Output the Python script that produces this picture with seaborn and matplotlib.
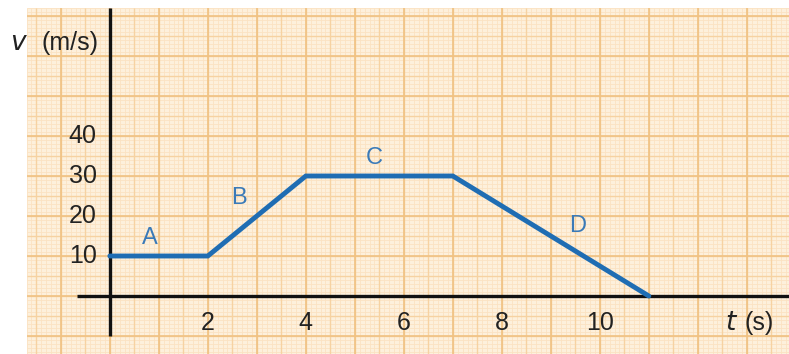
import numpy as np
import pandas as pd
import matplotlib
matplotlib.use("Agg")
import matplotlib.pyplot as plt
import seaborn as sns

# velocity-time data
t_points = [0, 2, 4, 7, 11]
v_points = [10, 10, 30, 30, 0]

x_tick_values = [2, 4, 6, 8, 10]
y_tick_values = [10, 20, 30, 40]

segment_names = ["A", "B", "C", "D"]
segment_t = [0.82, 2.63, 5.4, 9.55]
segment_v = [14.5, 24.5, 34.5, 17.5]

sns.set_style("white")
plt.rcParams["font.family"] = ["Liberation Sans", "DejaVu Sans"]

fig = plt.figure(figsize=(7.89, 3.54), dpi=100)
ax = fig.add_axes([27 / 789, 0, 762 / 789, 346 / 354])

x_min, x_max = -1.69, 13.86
y_min, y_max = -14.5, 72.0
ax.set_xlim(x_min, x_max)
ax.set_ylim(y_min, y_max)
ax.set_facecolor("#fdf0dc")

# graph-paper grid: fine, medium and coarse lines
fine_x = np.arange(-2, 14.01, 0.1)
fine_y = np.arange(-15, 73, 1.0)
ax.vlines(fine_x, y_min, y_max, color="#fbe2c2", lw=0.6, zorder=0)
ax.hlines(fine_y, x_min, x_max, color="#fbe2c2", lw=0.6, zorder=0)
mid_x = np.arange(-2, 14.01, 0.5)
mid_y = np.arange(-15, 73, 5.0)
ax.vlines(mid_x, y_min, y_max, color="#f6d2a2", lw=1.0, zorder=0)
ax.hlines(mid_y, x_min, x_max, color="#f6d2a2", lw=1.0, zorder=0)
big_x = np.arange(-2, 14.01, 1.0)
big_y = np.arange(-10, 73, 10.0)
ax.vlines(big_x, y_min, y_max, color="#f0c283", lw=1.2, zorder=0)
ax.hlines(big_y, x_min, x_max, color="#f0c283", lw=1.2, zorder=0)

# axes lines
ax.plot([0, 0], [-10, y_max], color="#111111", lw=2.4, zorder=2, solid_capstyle="butt")
ax.plot([-0.67, x_max], [0, 0], color="#111111", lw=2.4, zorder=2, solid_capstyle="butt")

df = pd.DataFrame({"t": t_points, "v": v_points})
sns.lineplot(data=df, x="t", y="v", ax=ax, color="#1f6db3", lw=3.5,
             sort=False, zorder=3, solid_joinstyle="miter")

for name, tt, vv in zip(segment_names, segment_t, segment_v):
    ax.text(tt, vv, name, color="#3a7ab8", fontsize=17, ha="center", va="center")

for xv in x_tick_values:
    ax.text(xv, -6.8, str(xv), fontsize=18, color="#222222", ha="center", va="center")
for yv in y_tick_values:
    ax.text(-0.27, yv, str(yv), fontsize=18, color="#222222", ha="right", va="center")

ax.text(12.68, -6.8, r"$t$", fontsize=19, color="#222222", ha="center", va="center")
ax.text(13.25, -6.8, "(s)", fontsize=18, color="#222222", ha="center", va="center")
ax.text(-1.85, 63.3, r"$v$", fontsize=19, color="#222222", ha="center", va="center",
        clip_on=False)
ax.text(-0.82, 63.3, "(m/s)", fontsize=18, color="#222222", ha="center", va="center",
        clip_on=False)

ax.set_xlabel("")
ax.set_ylabel("")
ax.set_xticks([])
ax.set_yticks([])
for s in ax.spines.values():
    s.set_visible(False)

fig.savefig("out.png", dpi=100)
